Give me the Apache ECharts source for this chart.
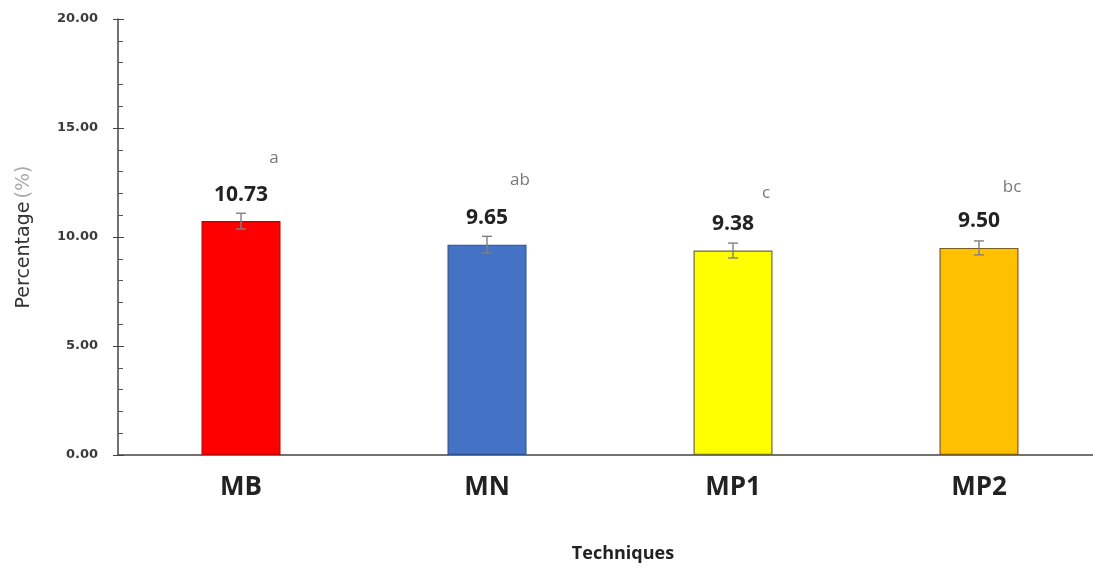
<!DOCTYPE html>
<html>
<head>
<meta charset="utf-8">
<script src="https://cdn.jsdelivr.net/npm/echarts@6/dist/echarts.min.js"></script>
<style>
  html, body { margin: 0; padding: 0; background: #fff; }
  #chart { width: 1093px; height: 569px; }
</style>
</head>
<body>
<div id="chart"></div>
<script>
// data
const techniques = ['MB', 'MN', 'MP1', 'MP2'];
const percentages = [10.73, 9.65, 9.38, 9.50];
const errors = [0.36, 0.38, 0.34, 0.32];
const groupLetters = ['a', 'ab', 'c', 'bc'];
const letterHeights = [13.6, 12.6, 12.0, 12.3];
const barColors = ['#FF0000', '#4472C4', '#FFFF00', '#FFC000'];
const barBorders = ['#c00000', '#2f528f', '#6b6b3a', '#7a5c1e'];
const yTicks = [0, 5, 10, 15, 20];

const chart = echarts.init(document.getElementById('chart'));
const font = '"Open Sans", Lato, sans-serif';

chart.setOption({
  animation: false,
  textStyle: { fontFamily: font },
  grid: { left: 118, right: -9, top: 19, bottom: 114, outerBoundsMode: 'none' },
  xAxis: {
    type: 'category', data: techniques,
    axisLine: { show: true, lineStyle: { color: '#444', width: 1.5 } },
    axisTick: { show: false },
    axisLabel: { fontSize: 26, fontWeight: 'bold', color: '#222', margin: 20 },
    name: 'Techniques', nameLocation: 'middle', nameGap: 90,
    nameTextStyle: { fontSize: 18, fontWeight: 'bold', color: '#222', padding: [0, 0, 0, 26] }
  },
  yAxis: [
    {
      type: 'value', min: 0, max: 20, interval: 5,
      axisLine: { show: true, lineStyle: { color: '#444', width: 1.5 } },
      axisTick: { show: true, inside: true, length: 6, lineStyle: { color: '#444' } },
      minorTick: { show: true, splitNumber: 5, length: 5, lineStyle: { color: '#555' } },
      splitLine: { show: false },
      axisLabel: {
        fontSize: 13, fontWeight: 'bold', color: '#3a3a3a', margin: 20,
        fontFamily: '"DejaVu Sans", sans-serif',
        formatter: v => yTicks.includes(v) ? v.toFixed(2) : ''
      },
      name: '{p|Percentage} {u|(%)}', nameLocation: 'middle', nameGap: 84, nameRotate: 90,
      nameTextStyle: {
        rich: {
          p: { fontSize: 19, color: '#333', fontFamily: '"DejaVu Sans", sans-serif' },
          u: { fontSize: 19, color: '#aaa', fontFamily: '"DejaVu Sans", sans-serif' }
        }
      }
    },
    {
      // outside half of the major ticks
      type: 'value', min: 0, max: 20, interval: 5, position: 'left',
      axisLine: { show: false },
      axisTick: { show: true, length: 5, lineStyle: { color: '#444' } },
      axisLabel: { show: false },
      splitLine: { show: false }
    }
  ],
  series: [
    {
      type: 'bar', barWidth: 79,
      data: percentages.map((v, i) => ({
        value: v,
        itemStyle: { color: barColors[i], borderColor: barBorders[i], borderWidth: 1.2 }
      })),
      label: {
        show: true, position: 'top', distance: 16,
        fontSize: 21, fontWeight: 'bold', color: '#222',
        formatter: p => p.value.toFixed(2)
      }
    },
    {
      type: 'custom', z: 5,
      data: percentages.map((v, i) => [i, v, errors[i]]),
      renderItem: (params, api) => {
        const x = api.coord([api.value(0), 0])[0];
        const hi = api.coord([api.value(0), api.value(1) + api.value(2)])[1];
        const lo = api.coord([api.value(0), api.value(1) - api.value(2)])[1];
        const style = { stroke: '#808080', lineWidth: 1.4 };
        return {
          type: 'group',
          children: [
            { type: 'line', shape: { x1: x, y1: hi, x2: x, y2: lo }, style },
            { type: 'line', shape: { x1: x - 5, y1: hi, x2: x + 5, y2: hi }, style },
            { type: 'line', shape: { x1: x - 5, y1: lo, x2: x + 5, y2: lo }, style }
          ]
        };
      }
    },
    {
      type: 'scatter', symbolSize: 0,
      data: letterHeights.map((h, i) => [i, h]),
      label: {
        show: true, position: 'inside', offset: [33, 0],
        fontSize: 17, color: '#555',
        formatter: p => groupLetters[p.dataIndex]
      }
    }
  ]
});
</script>
</body>
</html>
